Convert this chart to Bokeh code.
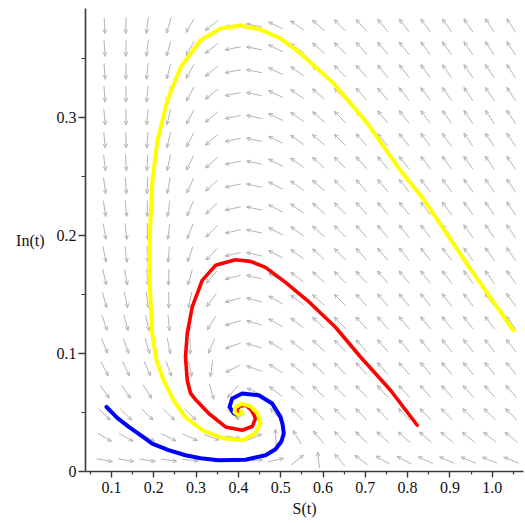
import numpy as np
from bokeh.plotting import figure
from bokeh.models import FixedTicker, Range1d
from bokeh.embed import file_html
from bokeh.resources import INLINE

# ---------------- axes ----------------
S_START, S_END = 0.0385, 1.074
I_START, I_END = 0.0, 0.3926
x_major = [0.1, 0.2, 0.3, 0.4, 0.5, 0.6, 0.7, 0.8, 0.9, 1.0]
x_minor = [0.05, 0.15, 0.25, 0.35, 0.45, 0.55, 0.65, 0.75, 0.85, 0.95, 1.05]
y_major = [0.0, 0.1, 0.2, 0.3]
y_minor = [0.05, 0.15, 0.25, 0.35]

# ---------------- model (direction field) ----------------
# S' = LAMBDA - BETA*S*In - MU*S ;  In' = BETA*S*In - GAMMA*In
BETA = 1.0
GAMMA = 0.41      # endemic equilibrium S* ~ 0.41
MU = 0.0854
LAMBDA = 0.0555   # disease-free equilibrium S0 ~ 0.65

field_S = np.linspace(0.0835, 1.045, 20)
field_I = np.linspace(0.0096, 0.3782, 20)

# ---------------- trajectories ----------------
yellow_S = [1.050, 0.946, 0.838, 0.783, 0.705, 0.625, 0.547, 0.4995, 0.4522, 0.405,
            0.3577, 0.3104, 0.2631, 0.2324, 0.2087, 0.1969, 0.191, 0.1887, 0.1922,
            0.1962, 0.2064, 0.2229, 0.2466, 0.2749, 0.3151, 0.3624, 0.4097, 0.4404,
            0.4522, 0.4452, 0.4286, 0.4073, 0.3931, 0.3908, 0.4002, 0.4097, 0.4060]
yellow_I = [0.1197, 0.1731, 0.2308, 0.2553, 0.2952, 0.3291, 0.3545, 0.3672, 0.3748, 0.3782,
            0.3757, 0.3655, 0.3426, 0.3147, 0.2808, 0.2469, 0.2045, 0.1731, 0.1452,
            0.1172, 0.0943, 0.0774, 0.0604, 0.0460, 0.0350, 0.0282, 0.0265, 0.0325,
            0.0409, 0.0494, 0.0553, 0.0575, 0.0545, 0.0503, 0.0477, 0.0494, 0.0511]

red_S = [0.8227, 0.7596, 0.6887, 0.6296, 0.5626, 0.5113, 0.4641, 0.4286, 0.3931, 0.3459,
         0.3144, 0.2908, 0.2790, 0.2749, 0.2790, 0.2868, 0.2986, 0.3300, 0.3695, 0.4090,
         0.4333, 0.4404, 0.4310, 0.4168, 0.4026, 0.3955, 0.4002, 0.4050]
red_I = [0.0392, 0.0689, 0.0971, 0.1223, 0.1452, 0.1604, 0.1731, 0.1782, 0.1795, 0.1748,
         0.1621, 0.1395, 0.1169, 0.0971, 0.0774, 0.0664, 0.0610, 0.0492, 0.0378, 0.0350,
         0.0384, 0.0452, 0.0520, 0.0562, 0.0553, 0.0520, 0.0494, 0.0505]

blue_S = [0.0882, 0.1142, 0.1409, 0.1686, 0.1962, 0.2348, 0.2749, 0.3104, 0.3537, 0.4168,
          0.4641, 0.4877, 0.5019, 0.5073, 0.5043, 0.4995, 0.4799, 0.4482, 0.4090, 0.3853,
          0.3790, 0.3891, 0.4009, 0.4060]
blue_I = [0.0547, 0.0452, 0.0378, 0.0308, 0.0237, 0.0181, 0.0138, 0.0113, 0.0096, 0.0100,
          0.0138, 0.0189, 0.0257, 0.0322, 0.0401, 0.0463, 0.0576, 0.0647, 0.0661, 0.0619,
          0.0547, 0.0492, 0.0477, 0.0500]

# ---------------- figure ----------------
FW, FH = 438, 463
p = figure(frame_width=FW, frame_height=FH, output_backend="svg", toolbar_location=None,
           x_range=Range1d(S_START, S_END), y_range=Range1d(I_START, I_END),
           min_border_left=85, min_border_right=2, min_border_top=8, min_border_bottom=50)
p.outline_line_color = None
p.xgrid.visible = False
p.ygrid.visible = False
p.background_fill_color = "white"

# direction field arrows (normalised length in screen space)
xs = FW / (S_END - S_START)
ys = FH / (I_END - I_START)
L = 16.0
H = 4.5
ang = np.deg2rad(24)
x0, y0, x1, y1 = [], [], [], []
for s in field_S:
    for i in field_I:
        fs = LAMBDA - BETA * s * i - MU * s
        fi = BETA * s * i - GAMMA * i
        px, py = fs * xs, fi * ys
        n = np.hypot(px, py)
        if n == 0:
            continue
        ux, uy = px / n, py / n
        tx, ty = s - ux * L / 2 / xs, i - uy * L / 2 / ys
        hx, hy = s + ux * L / 2 / xs, i + uy * L / 2 / ys
        x0.append(tx); y0.append(ty); x1.append(hx); y1.append(hy)
        for a in (ang, -ang):
            bx = -ux * np.cos(a) + uy * np.sin(a)
            by = -ux * np.sin(a) - uy * np.cos(a)
            x0.append(hx); y0.append(hy)
            x1.append(hx + bx * H / xs); y1.append(hy + by * H / ys)

p.segment(x0=x0, y0=y0, x1=x1, y1=y1, line_color="#b4b4b4", line_width=1)

p.line(blue_S, blue_I, line_color="#0000ff", line_width=4, line_cap="round", line_join="round")
p.line(red_S, red_I, line_color="#ff0000", line_width=3.6, line_cap="round", line_join="round")
p.line(yellow_S, yellow_I, line_color="#ffff00", line_width=4, line_cap="round", line_join="round")

# axes styling
for ax in (p.xaxis, p.yaxis):
    ax.axis_line_color = "#3a3a3a"
    ax.axis_line_width = 1.6
    ax.major_tick_line_color = "#3a3a3a"
    ax.minor_tick_line_color = "#3a3a3a"
    ax.major_tick_line_width = 1.4
    ax.minor_tick_line_width = 1.2
    ax.major_tick_in = 0
    ax.minor_tick_in = 0
    ax.major_label_text_font = "Liberation Serif"
    ax.major_label_text_font_size = "16px"
    ax.major_label_text_color = "#111111"
    ax.axis_label_text_font = "Liberation Serif"
    ax.axis_label_text_font_size = "16px"
    ax.axis_label_text_font_style = "normal"
    ax.axis_label_text_color = "#111111"

p.xaxis.ticker = FixedTicker(ticks=x_major, minor_ticks=x_minor)
p.yaxis.ticker = FixedTicker(ticks=y_major, minor_ticks=y_minor)
p.xaxis.major_label_overrides = {0.1: "0.1", 0.2: "0.2", 0.3: "0.3", 0.4: "0.4", 0.5: "0.5",
                                 0.6: "0.6", 0.7: "0.7", 0.8: "0.8", 0.9: "0.9", 1.0: "1.0"}
p.yaxis.major_label_overrides = {0.0: "0", 0.1: "0.1", 0.2: "0.2", 0.3: "0.3"}
p.xaxis.major_tick_out = 6
p.xaxis.minor_tick_out = 3
p.yaxis.major_tick_out = 7
p.yaxis.minor_tick_out = 4
p.xaxis.major_label_standoff = 4
p.yaxis.major_label_standoff = 2
p.xaxis.axis_label = "S(t)"
p.yaxis.axis_label = "In(t)"
p.yaxis.axis_label_orientation = "horizontal"
p.xaxis.axis_label_standoff = 4
p.yaxis.axis_label_standoff = 9

open("out.html", "w").write(file_html(p, INLINE))
